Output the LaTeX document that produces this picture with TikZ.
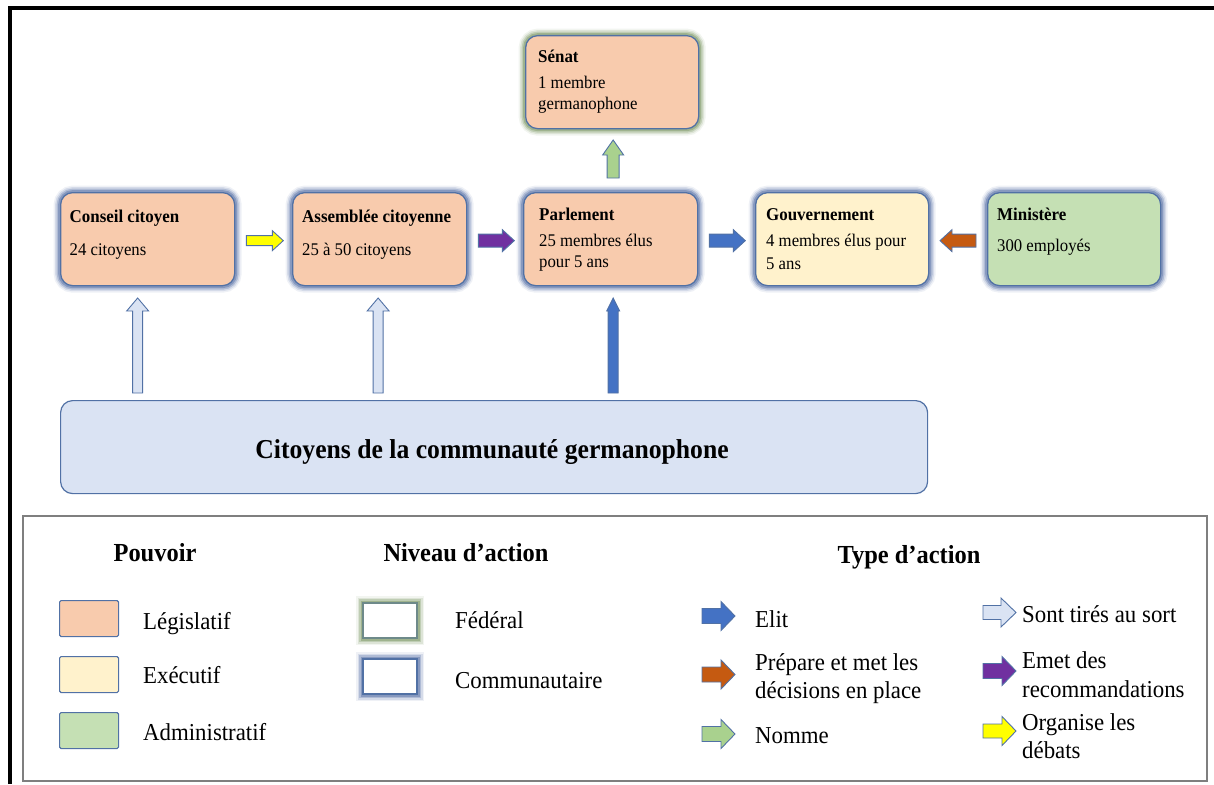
\documentclass[tikz,border=0pt]{standalone}
\usepackage{fontspec}
\setmainfont{Liberation Serif}[FakeStretch=0.94]
\usetikzlibrary{calc}
\definecolor{peach}{HTML}{F8CBAD}
\definecolor{cream}{HTML}{FFF2CC}
\definecolor{lgreen}{HTML}{C5E0B4}
\definecolor{lblue}{HTML}{DAE3F3}
\definecolor{bord}{HTML}{5171A5}
\definecolor{glowbc}{HTML}{5F77AA}
\definecolor{glowgc}{HTML}{7F9A68}
\definecolor{fedbord}{HTML}{6E8A8A}
\definecolor{ablue}{HTML}{4472C4}
\definecolor{aorange}{HTML}{C55A11}
\definecolor{apurple}{HTML}{7030A0}
\definecolor{ayellow}{HTML}{FFFF00}
\definecolor{agreen}{HTML}{A9D18E}
\definecolor{alblue}{HTML}{DAE3F3}
\definecolor{legbord}{HTML}{7F7F7F}
\newcommand\ftxt{\fontsize{17.8}{20}\selectfont}
\newcommand\fttl{\fontsize{18}{20}\selectfont\bfseries}
\newcommand\flab{\fontsize{24.3}{28}\selectfont}
\newcommand\fhead{\fontsize{26}{30}\selectfont\bfseries}
\newcommand\fbig{\fontsize{27.3}{30}\selectfont\bfseries}
% block arrows: #1 style, #2 tail coordinate, #3 length, #4 shaft half width, #5 head half width, #6 head length
\newcommand\rarr[6]{\draw[#1] (#2) ++(0,-#4) -- ++({#3-#6},0) -- ++(0,{#4-#5}) -- ++(#6,#5) -- ++(-#6,#5) -- ++(0,{#4-#5}) -- ++({#6-#3},0) -- cycle;}
\newcommand\larr[6]{\draw[#1] (#2) ++(0,-#4) -- ++({#6-#3},0) -- ++(0,{#4-#5}) -- ++(-#6,#5) -- ++(#6,#5) -- ++(0,{#4-#5}) -- ++({#3-#6},0) -- cycle;}
\newcommand\uarr[6]{\draw[#1] (#2) ++(-#4,0) -- ++(0,{#6-#3}) -- ++({#4-#5},0) -- ++(#5,-#6) -- ++(#5,#6) -- ++({#4-#5},0) -- ++(0,{#3-#6}) -- cycle;}
\begin{document}
\begin{tikzpicture}[x=1pt,y=-1pt,
  glowblue/.style={preaction={draw=glowbc, line width=14pt, draw opacity=0.10},
                   preaction={draw=glowbc, line width=11pt, draw opacity=0.18},
                   preaction={draw=glowbc, line width=8pt, draw opacity=0.32},
                   preaction={draw=glowbc, line width=5pt, draw opacity=0.5}},
  glowgreen/.style={preaction={draw=glowgc, line width=14pt, draw opacity=0.10},
                    preaction={draw=glowgc, line width=11pt, draw opacity=0.18},
                    preaction={draw=glowgc, line width=8pt, draw opacity=0.32},
                    preaction={draw=glowgc, line width=5pt, draw opacity=0.5}},
  cbox/.style={draw=bord, line width=1.3pt, rounded corners=12pt, anchor=north west,
               inner sep=0pt, minimum width=174pt, minimum height=93pt},
  txt/.style={anchor=base west, inner sep=0pt},
  blockarr/.style={draw=bord, line width=0.9pt, line join=miter, fill=#1},
  swatch/.style={draw=bord, line width=1.1pt, rounded corners=1.5pt, anchor=north west,
                 minimum width=59pt, minimum height=36pt, inner sep=0pt},
  lvl/.style={line width=2.2pt, anchor=north west, fill=white,
              minimum width=54pt, minimum height=35pt, inner sep=0pt}]
\useasboundingbox (0,0) rectangle (1214,784);
% outer frame
\draw[line width=4pt, line join=miter] (10,784) -- (10,8.5) -- (1214,8.5);

% main boxes
\node[cbox, glowblue, fill=peach] (conseil) at (60,192) {};
\node[cbox, glowblue, fill=peach] (assemblee) at (292,192) {};
\node[cbox, glowblue, fill=peach] (parlement) at (523,192) {};
\node[cbox, glowblue, fill=cream, minimum width=173pt] (gouv) at (755,192) {};
\node[cbox, glowblue, fill=lgreen, minimum width=173pt] (ministere) at (987,192) {};
\node[cbox, glowgreen, fill=peach, minimum width=173pt] (senat) at (525,35) {};
\node[draw=bord, line width=1.2pt, fill=lblue, rounded corners=12pt, anchor=north west,
      inner sep=0pt, minimum width=867pt, minimum height=93pt] (citoyens) at (60,400) {};

% box texts
\node[txt, font=\fttl] (conseil-t) at ($(conseil.north west)+(9.5,30)$) {Conseil citoyen};
\node[txt, font=\ftxt] (conseil-a) at ($(conseil.north west)+(9.5,63)$) {24 citoyens};
\node[txt, font=\fttl] (assemblee-t) at ($(assemblee.north west)+(10,30)$) {Assemblée citoyenne};
\node[txt, font=\ftxt] (assemblee-a) at ($(assemblee.north west)+(10,63)$) {25 à 50 citoyens};
\node[txt, font=\fttl] (parlement-t) at ($(parlement.north west)+(16,28)$) {Parlement};
\node[txt, font=\ftxt] (parlement-a) at ($(parlement.north west)+(16,54.7)$) {25 membres élus};
\node[txt, font=\ftxt] (parlement-b) at ($(parlement.north west)+(16,75)$) {pour 5 ans};
\node[txt, font=\fttl] (gouv-t) at ($(gouv.north west)+(11,28)$) {Gouvernement};
\node[txt, font=\ftxt] (gouv-a) at ($(gouv.north west)+(11,54.7)$) {4 membres élus pour};
\node[txt, font=\ftxt] (gouv-b) at ($(gouv.north west)+(11,77)$) {5 ans};
\node[txt, font=\fttl] (ministere-t) at ($(ministere.north west)+(10,28)$) {Ministère};
\node[txt, font=\ftxt] (ministere-a) at ($(ministere.north west)+(10,59.7)$) {300 employés};
\node[txt, font=\fttl] (senat-t) at ($(senat.north west)+(13,27.3)$) {Sénat};
\node[txt, font=\ftxt] (senat-a) at ($(senat.north west)+(13,53.3)$) {1 membre};
\node[txt, font=\ftxt] (senat-b) at ($(senat.north west)+(13,74.3)$) {germanophone};
\node[anchor=base, inner sep=0pt, font=\fbig] (citoyens-t) at ($(citoyens.center)+(-2,11.5)$) {Citoyens de la communauté germanophone};

% connectors (block arrows)
\coordinate (ay) at ($(conseil.east)+(11,1.5)$);
\coordinate (ap) at ($(assemblee.east)+(11,1.5)$);
\coordinate (ab) at ($(parlement.east)+(11,1.5)$);
\coordinate (ao) at ($(ministere.west)+(-11,1.5)$);
\coordinate (ag) at ($(parlement.north)+(2.5,-14)$);
\coordinate (u1) at ($(conseil.south |- citoyens.north)+(-10,-7)$);
\coordinate (u2) at ($(assemblee.south |- citoyens.north)+(-1.5,-7)$);
\coordinate (u3) at ($(parlement.south |- citoyens.north)+(2.5,-7)$);
\rarr{blockarr=ayellow}{ay}{37}{5}{10}{11}
\rarr{blockarr=apurple}{ap}{36}{6.5}{11}{12}
\rarr{blockarr=ablue}{ab}{36}{6.5}{11}{12}
\larr{blockarr=aorange}{ao}{36}{6.5}{11}{12}
\uarr{blockarr=agreen}{ag}{38}{6}{10.5}{15}
\uarr{blockarr=alblue}{u1}{95}{5}{11}{13}
\uarr{blockarr=alblue}{u2}{95}{5}{11}{13}
\uarr{blockarr=ablue}{u3}{95}{5}{6.5}{13}

% legend
\node[draw=legbord, line width=1.5pt, anchor=north west, inner sep=0pt,
      minimum width=1184pt, minimum height=265pt] (legend) at (22,515) {};
\node[anchor=base, inner sep=0pt, font=\fhead] (h-pouvoir) at (155,561) {Pouvoir};
\node[anchor=base, inner sep=0pt, font=\fhead] (h-niveau) at (466,561) {Niveau d’action};
\node[anchor=base, inner sep=0pt, font=\fhead] (h-type) at (909,563) {Type d’action};

\node[swatch, fill=peach] (sw-leg) at (59,600) {};
\node[swatch, fill=cream] (sw-exe) at (59,656) {};
\node[swatch, fill=lgreen] (sw-adm) at (59,712) {};
\node[txt, font=\flab] (l-leg) at (143,629) {Législatif};
\node[txt, font=\flab] (l-exe) at (143,683) {Exécutif};
\node[txt, font=\flab] (l-adm) at (143,740.7) {Administratif};

\node[lvl, draw=fedbord, glowgreen] (sw-fed) at (362,602) {};
\node[lvl, draw=bord, glowblue] (sw-com) at (362,658) {};
\node[txt, font=\flab] (l-fed) at (455,628) {Fédéral};
\node[txt, font=\flab] (l-com) at (455,688) {Communautaire};

\coordinate (k1) at (702,616);
\coordinate (k2) at (702,674.5);
\coordinate (k3) at (702,734);
\coordinate (k4) at (983,612.5);
\coordinate (k5) at (983,671);
\coordinate (k6) at (983,731);
\rarr{blockarr=ablue}{k1}{33}{7.5}{14.5}{14}
\rarr{blockarr=aorange}{k2}{33}{7.5}{14.5}{14}
\rarr{blockarr=agreen}{k3}{33}{7.5}{14.5}{14}
\rarr{blockarr=alblue}{k4}{33}{7}{14.5}{15}
\rarr{blockarr=apurple}{k5}{33}{7.5}{14.5}{14}
\rarr{blockarr=ayellow}{k6}{33}{7}{14.5}{14}
\node[txt, font=\flab] (l-elit) at (755,627) {Elit};
\node[txt, font=\flab] (l-prep1) at (755,670) {Prépare et met les};
\node[txt, font=\flab] (l-prep2) at (755,698) {décisions en place};
\node[txt, font=\flab] (l-nomme) at (755,743) {Nomme};
\node[txt, font=\flab] (l-sort) at (1022,622) {Sont tirés au sort};
\node[txt, font=\flab] (l-emet1) at (1022,668) {Emet des};
\node[txt, font=\flab] (l-emet2) at (1022,697) {recommandations};
\node[txt, font=\flab] (l-org1) at (1022,730) {Organise les};
\node[txt, font=\flab] (l-org2) at (1022,758) {débats};
\end{tikzpicture}
\end{document}
